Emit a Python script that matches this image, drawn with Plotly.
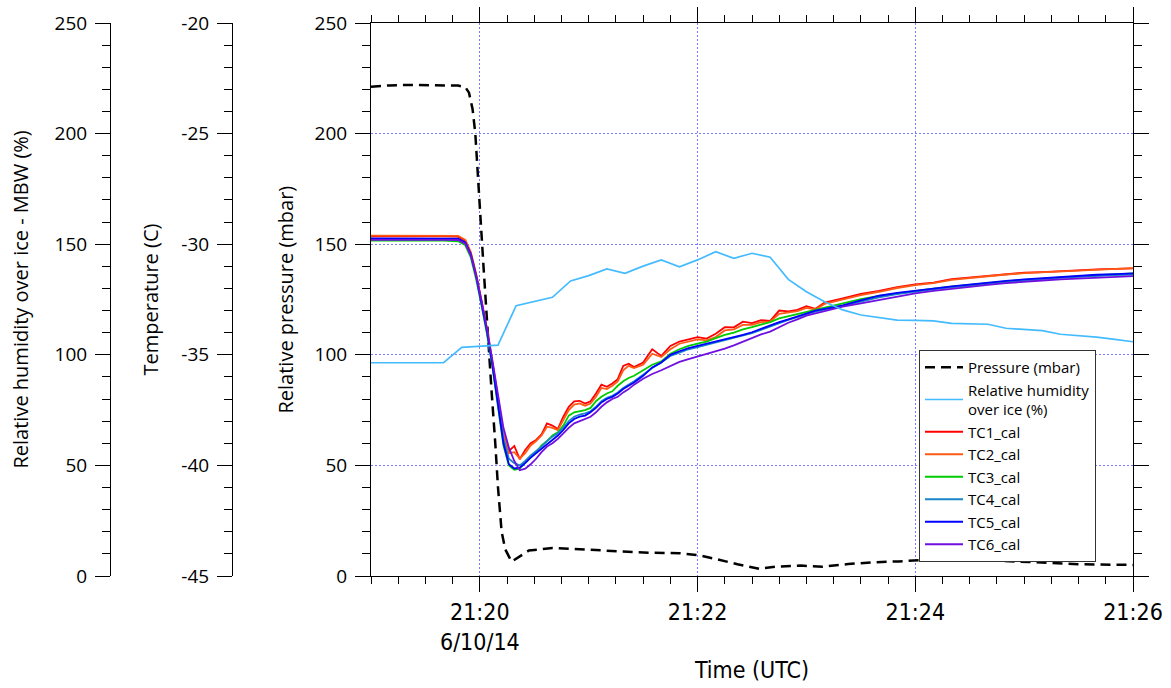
import pandas as pd
import plotly.graph_objects as go

DAY = "2014-06-10 "

# ---- thermocouple time base (UTC) ----
tc_time = ["21:19:00", "21:19:20", "21:19:40", "21:19:48", "21:19:52", "21:19:55", "21:19:58",
           "21:20:01", "21:20:04", "21:20:07", "21:20:10", "21:20:13", "21:20:16", "21:20:19", "21:20:22",
           "21:20:25", "21:20:28", "21:20:31", "21:20:34", "21:20:37", "21:20:40", "21:20:43", "21:20:46",
           "21:20:49", "21:20:52", "21:20:55", "21:20:58", "21:21:01", "21:21:04", "21:21:07", "21:21:10",
           "21:21:13", "21:21:16", "21:21:19", "21:21:22", "21:21:25", "21:21:30", "21:21:35", "21:21:40",
           "21:21:45", "21:21:50", "21:21:55", "21:22:00", "21:22:05", "21:22:10", "21:22:15", "21:22:20",
           "21:22:25", "21:22:30", "21:22:35", "21:22:40", "21:22:45", "21:22:50", "21:22:55", "21:23:00",
           "21:23:05", "21:23:10", "21:23:20", "21:23:30", "21:23:40", "21:23:50", "21:24:00", "21:24:10",
           "21:24:20", "21:24:30", "21:24:40", "21:24:50", "21:25:00", "21:25:10", "21:25:20", "21:25:30",
           "21:25:40", "21:25:50", "21:26:00"]

# ---- calibrated thermocouple temperatures (deg C) ----
tc1 = [-29.64, -29.63, -29.64, -29.66, -29.85, -30.40, -31.40, -32.60, -33.90, -35.40, -37.00, -38.60, -39.35,
       -39.12, -39.72, -39.30, -39.00, -38.85, -38.60, -38.10, -38.20, -38.35, -37.80, -37.35, -37.10, -37.08,
       -37.20, -37.10, -36.75, -36.35, -36.45, -36.30, -36.10, -35.50, -35.40, -35.55, -35.35, -34.75, -35.05,
       -34.60, -34.40, -34.30, -34.20, -34.27, -34.05, -33.75, -33.76, -33.50, -33.57, -33.43, -33.47, -33.00,
       -33.04, -32.97, -32.80, -32.92, -32.64, -32.45, -32.25, -32.11, -31.94, -31.82, -31.74, -31.58, -31.50,
       -31.42, -31.34, -31.29, -31.26, -31.21, -31.17, -31.14, -31.12, -31.09]
tc2 = [-29.61, -29.60, -29.61, -29.62, -29.80, -30.35, -31.35, -32.55, -33.85, -35.35, -36.95, -38.60, -39.45,
       -39.40, -39.70, -39.45, -39.10, -38.90, -38.65, -38.25, -38.30, -38.40, -37.95, -37.50, -37.25, -37.20,
       -37.30, -37.20, -36.90, -36.50, -36.55, -36.40, -36.20, -35.70, -35.50, -35.60, -35.45, -34.95, -35.10,
       -34.75, -34.50, -34.40, -34.30, -34.35, -34.20, -33.90, -33.85, -33.65, -33.65, -33.52, -33.50, -33.15,
       -33.10, -33.03, -32.88, -32.95, -32.70, -32.50, -32.30, -32.15, -31.98, -31.85, -31.76, -31.61, -31.52,
       -31.44, -31.37, -31.31, -31.27, -31.22, -31.17, -31.13, -31.10, -31.08]
tc3 = [-29.84, -29.83, -29.84, -29.87, -30.05, -30.60, -31.60, -32.80, -34.10, -35.60, -37.30, -39.10, -40.00,
       -40.20, -40.15, -39.85, -39.65, -39.40, -39.10, -38.90, -38.65, -38.50, -38.20, -37.75, -37.60, -37.55,
       -37.50, -37.40, -37.10, -36.90, -36.75, -36.65, -36.40, -36.20, -36.05, -35.95, -35.70, -35.45, -35.30,
       -34.95, -34.75, -34.60, -34.50, -34.40, -34.25, -34.10, -34.00, -33.85, -33.75, -33.65, -33.52, -33.35,
       -33.25, -33.15, -33.05, -32.95, -32.85, -32.67, -32.48, -32.34, -32.22, -32.11, -32.01, -31.92, -31.83,
       -31.75, -31.68, -31.61, -31.55, -31.50, -31.45, -31.40, -31.36, -31.32]
tc4 = [-29.77, -29.76, -29.77, -29.78, -29.95, -30.50, -31.50, -32.70, -34.00, -35.50, -37.15, -38.80, -39.70,
       -39.90, -40.00, -39.80, -39.55, -39.35, -39.15, -38.90, -38.70, -38.55, -38.30, -38.00, -37.80, -37.70,
       -37.65, -37.55, -37.35, -37.10, -36.95, -36.85, -36.70, -36.50, -36.35, -36.20, -35.90, -35.60, -35.35,
       -35.05, -34.90, -34.75, -34.65, -34.55, -34.45, -34.35, -34.25, -34.15, -34.02, -33.87, -33.72, -33.55,
       -33.42, -33.30, -33.17, -33.05, -32.96, -32.80, -32.60, -32.40, -32.26, -32.14, -32.04, -31.95, -31.87,
       -31.79, -31.71, -31.64, -31.58, -31.52, -31.47, -31.43, -31.40, -31.37]
tc5 = [-29.74, -29.73, -29.74, -29.75, -29.92, -30.45, -31.45, -32.65, -33.95, -35.50, -37.20, -39.00, -39.95,
       -40.14, -40.10, -39.90, -39.65, -39.45, -39.25, -39.05, -38.85, -38.65, -38.40, -38.10, -37.90, -37.80,
       -37.75, -37.60, -37.40, -37.15, -37.00, -36.90, -36.75, -36.55, -36.40, -36.25, -35.95, -35.57, -35.35,
       -35.00, -34.84, -34.70, -34.60, -34.50, -34.40, -34.30, -34.22, -34.10, -33.98, -33.82, -33.67, -33.52,
       -33.40, -33.27, -33.13, -33.00, -32.92, -32.77, -32.54, -32.33, -32.20, -32.09, -32.01, -31.91, -31.82,
       -31.74, -31.66, -31.59, -31.53, -31.47, -31.42, -31.38, -31.35, -31.32]
tc6 = [-29.80, -29.79, -29.80, -29.81, -29.98, -30.50, -31.45, -32.60, -33.85, -35.30, -36.90, -38.30, -39.20,
       -39.80, -40.22, -40.15, -39.95, -39.70, -39.40, -39.15, -39.00, -38.80, -38.55, -38.30, -38.10, -38.00,
       -37.90, -37.80, -37.60, -37.35, -37.15, -37.00, -36.90, -36.70, -36.55, -36.35, -36.08, -35.87, -35.70,
       -35.50, -35.32, -35.20, -35.08, -34.95, -34.85, -34.72, -34.57, -34.40, -34.23, -34.08, -33.95, -33.74,
       -33.55, -33.40, -33.23, -33.13, -33.03, -32.82, -32.68, -32.52, -32.36, -32.22, -32.11, -32.01, -31.92,
       -31.84, -31.76, -31.69, -31.64, -31.59, -31.55, -31.51, -31.48, -31.44]

# ---- relative humidity over ice (%), 10 s samples ----
rh_time = [t.strftime("%H:%M:%S") for t in pd.date_range(DAY + "21:19:00", DAY + "21:26:00", freq="10s")]
rh = [96.4, 96.4, 96.4, 96.4, 96.4, 103.4, 103.9, 104.4, 122.2, 124.1, 126.0, 133.4, 135.8, 138.8, 136.8,
      140.1, 142.9, 139.8, 142.9, 146.6, 143.6, 145.9, 144.1, 134.1, 128.5, 124.0, 120.3, 118.0, 116.8, 115.7,
      115.6, 115.3, 114.2, 114.0, 113.8, 112.0, 111.5, 110.9, 109.3, 108.8, 108.0, 107.0, 105.9]

# ---- relative pressure (mbar) ----
p_time = ["21:19:00", "21:19:10", "21:19:20", "21:19:30", "21:19:40", "21:19:48", "21:19:52", "21:19:54",
          "21:19:56", "21:19:57.5", "21:19:59", "21:20:00", "21:20:01", "21:20:02", "21:20:03.5", "21:20:05",
          "21:20:06.5", "21:20:08.5", "21:20:10", "21:20:12", "21:20:14", "21:20:17.5", "21:20:22", "21:20:27",
          "21:20:40", "21:20:56", "21:21:15", "21:21:33", "21:21:50", "21:22:01", "21:22:11", "21:22:22",
          "21:22:34", "21:22:43", "21:22:57", "21:23:09", "21:23:23", "21:23:37", "21:23:51", "21:24:03",
          "21:24:17", "21:24:31", "21:24:49", "21:25:03", "21:25:17", "21:25:31", "21:26:00"]
pressure = [221.2, 221.8, 222.0, 222.0, 221.9, 221.7, 221.0, 218.5, 211.0, 200.0, 180.0, 165.0, 151.0, 140.0,
            121.0, 100.0, 83.0, 60.0, 40.0, 20.0, 12.0, 6.5, 9.0, 11.5, 12.7, 12.1, 11.2, 10.5, 10.3, 9.4, 7.5,
            5.3, 3.3, 4.2, 4.7, 4.2, 5.4, 6.2, 6.6, 7.2, 7.4, 7.2, 6.8, 6.3, 5.7, 5.3, 5.0]

x_tickvals = ["21:20:00", "21:22:00", "21:24:00", "21:26:00"]
x_ticktext = ["21:20<br>6/10/14", "21:22", "21:24", "21:26"]
temp_tickvals = [-45, -40, -35, -30, -25, -20]
temp_ticktext = ["-45", "-40", "-35", "-30", "-25", "-20"]

tc_names = ["TC1_cal", "TC2_cal", "TC3_cal", "TC4_cal", "TC5_cal", "TC6_cal"]
tc_colors = ["#ff0000", "#ff5a14", "#00cc00", "#1a86c8", "#0000ff", "#7010e0"]
tc_series = [tc1, tc2, tc3, tc4, tc5, tc6]

for s in tc_series:
    assert len(s) == len(tc_time)
assert len(rh) == len(rh_time)
assert len(pressure) == len(p_time)

W, H = 1171, 688
ML, MR, MT, MB = 0, 38, 23, 112
PW = W - ML - MR
X0 = 371 / PW
FONT = "Open Sans"
XFONT = "Liberation Sans Narrow, DejaVu Sans Condensed, Open Sans"
GRID = "#7a7aff"
x_range = [DAY + "21:19:00", DAY + "21:26:00"]

fig = go.Figure()
fig.add_trace(go.Scatter(x=[DAY + t for t in p_time], y=pressure, name="Pressure (mbar)", mode="lines",
                         line=dict(color="black", width=2.5, dash="10px,6px"), xaxis="x", yaxis="y"))
fig.add_trace(go.Scatter(x=[DAY + t for t in rh_time], y=rh, name="Relative humidity<br>over ice (%)",
                         mode="lines", line=dict(color="#44bbff", width=1.7), xaxis="x", yaxis="y3"))
for name, col, s in zip(tc_names, tc_colors, tc_series):
    fig.add_trace(go.Scatter(x=[DAY + t for t in tc_time], y=s, name=name, mode="lines",
                             line=dict(color=col, width=1.8), xaxis="x", yaxis="y2"))

tickfont = dict(family=FONT, size=19, color="black")
fig.update_layout(
    template="none",
    width=W, height=H,
    margin=dict(l=ML, r=MR, t=MT, b=MB),
    paper_bgcolor="white", plot_bgcolor="white",
    showlegend=True,
    xaxis=dict(type="date", domain=[X0, 1], range=x_range, anchor="y",
               tickvals=[DAY + t for t in x_tickvals], ticktext=x_ticktext,
               ticks="outside", ticklen=15, tickwidth=1, tickcolor="black",
               showline=True, linecolor="black", linewidth=1, mirror="ticks",
               showgrid=True, gridcolor=GRID, griddash="2px,2px", gridwidth=1, zeroline=False,
               minor=dict(ticks="outside", ticklen=7, tickcolor="black", dtick=15000,
                          tick0=DAY + "21:19:00", showgrid=False),
               tickfont=dict(family=XFONT, size=23, color="black"),
               title=dict(text="Time (UTC)", font=dict(family=XFONT, size=23, color="black"), standoff=8)),
    xaxis2=dict(type="date", overlaying="x", anchor="y", range=x_range,
                dtick=30000, tick0=DAY + "21:19:00", ticks="outside", ticklen=11, tickcolor="black",
                showticklabels=False, showgrid=False, gridcolor="rgba(0,0,0,0)", zeroline=False,
                showline=False, mirror="ticks"),
    yaxis=dict(domain=[0, 1], range=[0, 250], anchor="x", side="left", tick0=0, dtick=50,
               ticks="outside", ticklen=15, tickwidth=1, tickcolor="black",
               minor=dict(ticks="outside", ticklen=8, tickcolor="black", dtick=10, tick0=0, showgrid=False),
               showline=True, linecolor="black", linewidth=1, mirror="ticks",
               showgrid=True, gridcolor=GRID, griddash="2px,2px", gridwidth=1, zeroline=False,
               tickfont=tickfont, ticklabelstandoff=4),
    yaxis2=dict(overlaying="y", anchor="free", position=232 / PW, side="left", range=[-45, -20],
                tickvals=temp_tickvals, ticktext=temp_ticktext, ticks="outside", ticklen=15, tickwidth=1,
                tickcolor="black",
                minor=dict(ticks="outside", ticklen=8, tickcolor="black", dtick=1, tick0=-45, showgrid=False),
                showline=True, linecolor="black", linewidth=1, showgrid=False, zeroline=False,
                tickfont=tickfont, ticklabelstandoff=4),
    yaxis3=dict(overlaying="y", anchor="free", position=110 / PW, side="left", range=[0, 250],
                tick0=0, dtick=50, ticks="outside", ticklen=15, tickwidth=1, tickcolor="black",
                minor=dict(ticks="outside", ticklen=8, tickcolor="black", dtick=10, tick0=0, showgrid=False),
                showline=True, linecolor="black", linewidth=1, showgrid=False, zeroline=False,
                tickfont=tickfont, ticklabelstandoff=4),
    legend=dict(x=919 / PW, y=(576 - 350) / (H - MT - MB), xanchor="left", yanchor="top",
                bgcolor="white", bordercolor="#333333", borderwidth=1,
                font=dict(family=FONT, size=15, color="black"), itemwidth=38, tracegroupgap=0),
)

title_font = dict(family=FONT, size=20, color="black")
for txt, px in [("Relative humidity over ice - MBW (%)", 20), ("Temperature (C)", 150),
                ("Relative pressure (mbar)", 285)]:
    fig.add_annotation(text=txt, xref="paper", yref="paper", x=px / PW, y=0.5, textangle=-90,
                       showarrow=False, xanchor="center", yanchor="middle", font=title_font)

fig.write_html("out.html")
